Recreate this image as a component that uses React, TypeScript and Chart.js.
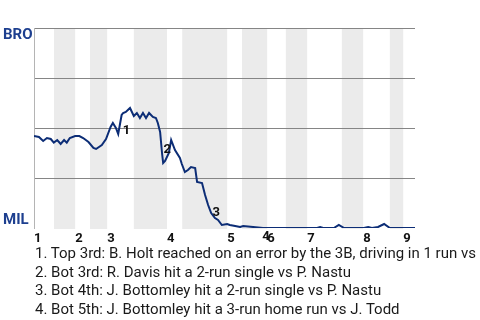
import React, { useEffect, useRef } from "react";
import { Chart, registerables } from "chart.js";

Chart.register(...registerables);

// Play-by-play win probability for BRO (0 = MIL wins, 1 = BRO wins)
const playIndex = [
  0, 1.3, 2.4, 3.4, 4.4, 5.2, 6.1, 7.0, 7.9, 8.6, 9.4, 10.8, 11.9, 12.9, 14.3, 15.6, 16.3, 17.8, 18.9,
  20.1, 20.7, 21.5, 22.1, 23.0, 23.4, 24.1, 25.2, 26.2, 27.0, 27.8, 28.6, 29.4, 30.2, 31.2, 32.0, 32.5,
  33.1, 33.6, 33.9, 34.4, 35.4, 36.0, 37.0, 38.3, 38.8, 39.6, 40.4, 41.2, 42.3, 42.8, 44.1, 44.9, 45.7,
  46.5, 47.5, 48.3, 49.3, 50.7, 51.4, 52.8, 54.1, 54.9, 57.5, 60.1, 62.0, 74.3, 75.1, 75.9, 78.7, 80.0,
  81.4, 86.6, 87.7, 88.7, 90.3, 91.9, 93.4, 100,
];
const broWinProb = [
  0.46, 0.455, 0.435, 0.45, 0.445, 0.427, 0.44, 0.42, 0.44, 0.427, 0.45, 0.46, 0.46, 0.45, 0.43, 0.4, 0.395,
  0.415, 0.445, 0.505, 0.525, 0.5, 0.47, 0.565, 0.575, 0.58, 0.6, 0.56, 0.575, 0.55, 0.575, 0.55, 0.575,
  0.555, 0.55, 0.525, 0.48, 0.375, 0.325, 0.335, 0.375, 0.44, 0.39, 0.35, 0.32, 0.28, 0.29, 0.305, 0.3,
  0.23, 0.225, 0.165, 0.115, 0.075, 0.05, 0.04, 0.015, 0.02, 0.015, 0.01, 0.005, 0.01, 0.005, 0, 0, 0,
  0.005, 0, 0, 0.015, 0, 0, 0.005, 0, 0.005, 0.02, 0, 0,
];

// Start of each half-inning (top 1st, bot 1st, top 2nd, ...), in plays
const halfInningStarts = [
  0, 5.25, 10.8, 14.7, 19.2, 26.2, 34.9, 38.9, 50.7, 54.6, 61.2, 66.1, 71.7, 80.8, 86.4, 93.4, 96.9,
];
const gameEnd = 100;
const inningLabels = ["1", "2", "3", "4", "5", "6", "7", "8", "9"];

const teamTop = "BRO";
const teamBottom = "MIL";

// Scoring-play markers
const eventLabels = ["1", "2", "3", "4"];
const eventPlay = [24.3, 35.0, 47.8, 60.9];
const eventProb = [0.485, 0.3925, 0.075, -0.045];

const eventNotes = [
  "1. Top 3rd: B. Holt reached on an error by the 3B, driving in 1 run vs P. Nastu",
  "2. Bot 3rd: R. Davis hit a 2-run single vs P. Nastu",
  "3. Bot 4th: J. Bottomley hit a 2-run single vs P. Nastu",
  "4. Bot 5th: J. Bottomley hit a 3-run home run vs J. Todd",
];

const FONT = "Roboto, 'Noto Sans', sans-serif";
const LINE_COLOR = "#0c2d76";
const TEAM_COLOR = "#1d3f8f";

export default function App() {
  const canvasRef = useRef<HTMLCanvasElement | null>(null);

  useEffect(() => {
    const canvas = canvasRef.current;
    if (!canvas) return;
    const inningStarts = halfInningStarts.filter((_, i) => i % 2 === 0);

    const bandsPlugin = {
      id: "bands",
      beforeDraw(chart: any) {
        const { ctx, chartArea, scales } = chart;
        const x = scales.x;
        ctx.save();
        ctx.fillStyle = "#ebebeb";
        for (let i = 1; i < halfInningStarts.length; i += 2) {
          const a = x.getPixelForValue(halfInningStarts[i]);
          const b = x.getPixelForValue(i + 1 < halfInningStarts.length ? halfInningStarts[i + 1] : gameEnd);
          ctx.fillRect(a, chartArea.top, b - a, chartArea.bottom - chartArea.top + 1);
        }
        ctx.restore();
      },
    };

    const labelsPlugin = {
      id: "labels",
      afterDatasetsDraw(chart: any) {
        const { ctx, scales, chartArea } = chart;
        ctx.save();
        ctx.font = `bold 13px ${FONT}`;
        ctx.fillStyle = "#111";
        ctx.textAlign = "center";
        ctx.textBaseline = "middle";
        eventLabels.forEach((t, i) => {
          ctx.fillText(t, scales.x.getPixelForValue(eventPlay[i]), scales.y.getPixelForValue(eventProb[i]));
        });
        ctx.font = `bold 15px ${FONT}`;
        ctx.fillStyle = TEAM_COLOR;
        ctx.textAlign = "left";
        ctx.fillText(teamTop, 3, chartArea.top + 7);
        ctx.fillText(teamBottom, 3, chartArea.bottom - 7.5);
        ctx.restore();
      },
    };

    const chart = new Chart(canvas, {
      type: "line",
      data: {
        datasets: [
          {
            data: playIndex.map((p, i) => ({ x: p, y: broWinProb[i] })),
            borderColor: LINE_COLOR,
            borderWidth: 2,
            pointRadius: 0,
            tension: 0,
            fill: false,
          },
        ],
      },
      options: {
        responsive: false,
        animation: false,
        layout: { padding: { top: 28, right: 65, left: 0, bottom: 0 } },
        plugins: { legend: { display: false }, tooltip: { enabled: false } },
        scales: {
          x: {
            type: "linear",
            min: 0,
            max: gameEnd,
            grid: { display: false, drawTicks: false },
            border: { display: false },
            afterBuildTicks: (scale: any) => {
              scale.ticks = inningStarts.map((v) => ({ value: v }));
            },
            afterFit: (scale: any) => {
              scale.height = 92;
            },
            ticks: {
              autoSkip: false,
              maxRotation: 0,
              align: "start",
              padding: 3,
              color: "#111",
              font: { family: FONT, size: 13, weight: "bold" },
              callback: (_v: any, i: number) => inningLabels[i],
            },
          },
          y: {
            type: "linear",
            min: 0,
            max: 1,
            afterFit: (scale: any) => {
              scale.width = 34;
            },
            ticks: { display: false, stepSize: 0.25 },
            grid: {
              drawTicks: false,
              color: (c: any) => (c.tick && c.tick.value === 0 ? "rgba(0,0,0,0)" : "#858585"),
              lineWidth: 1,
            },
            border: { display: true, color: "#b4b4b4", width: 1 },
          },
        },
      },
      plugins: [bandsPlugin, labelsPlugin],
    });
    return () => chart.destroy();
  }, []);

  return (
    <div
      style={{
        position: "absolute",
        left: 0,
        top: 0,
        width: 480,
        height: 320,
        overflow: "hidden",
        background: "#fff",
      }}
    >
      <canvas ref={canvasRef} width={480} height={320} style={{ width: 480, height: 320, display: "block" }} />
      <div
        style={{
          position: "absolute",
          left: 35,
          top: 244,
          width: 445,
          overflow: "hidden",
          whiteSpace: "nowrap",
          fontFamily: FONT,
          fontSize: 15,
          lineHeight: "18.5px",
          color: "#1a1a1a",
        }}
      >
        {eventNotes.map((n, i) => (
          <div key={i}>{n}</div>
        ))}
      </div>
    </div>
  );
}
